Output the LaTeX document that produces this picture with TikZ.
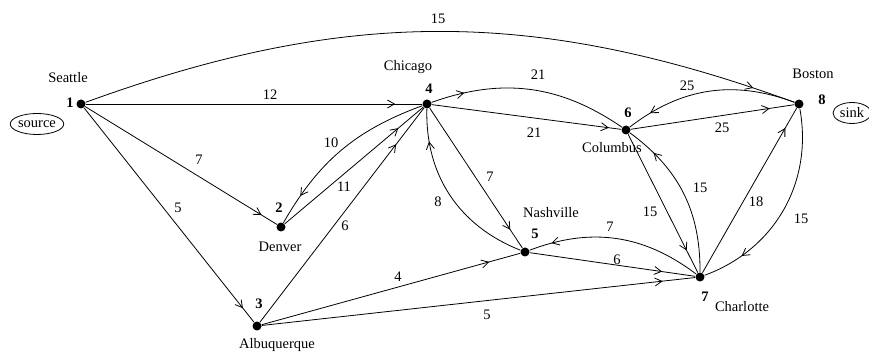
\documentclass[tikz,border=0pt]{standalone}
\usepackage{fontspec}
\setmainfont{Liberation Serif}
\usetikzlibrary{arrows.meta,decorations.markings,shapes.geometric}
\tikzset{city/.style={circle,fill,inner sep=0pt,minimum size=9pt},
  vtip/.style={postaction={decorate},decoration={markings,
    mark=at position #1 with {\arrow{Straight Barb[length=7pt,width=8pt]}}}},
  term/.style={draw,ellipse,inner sep=0pt,minimum width=#1,minimum height=21pt}}

\begin{document}
\begin{tikzpicture}[x=1pt,y=1pt,font=\fontsize{14.5}{16}\selectfont,line width=0.8pt]
\useasboundingbox (0,0) rectangle (869,-352);
% cities, numbers and names
\foreach \n/\x/\y in {1/81/104,2/281/227,3/257/326,4/427/104,5/525/252,6/626/130,7/700/277,8/799/104}
  {\node[city] (c\n) at (\x,-\y) {};}
\foreach \n/\x/\y in {1/70/103,2/279/208,3/259/304,4/429/89,5/535/234,6/628/113,7/705/297,8/822/100}
  {\node (n\n) at (\x,-\y) {\bfseries\n};}
\foreach \t/\x/\y in {Seattle/68/78,Denver/280/247,Albuquerque/277/345,Chicago/408/67,Nashville/551/213,Columbus/612/148,Charlotte/742/307,Boston/813/74}
  {\node (l\t) at (\x,-\y) {\t};}
\node[term=53pt] (src) at (37,-124) {source};
\node[term=38pt] (snk) at (852,-113) {sink};
% straight arcs with capacities
\foreach \a/\b/\p/\w/\x/\y in {1/4/0.92/12/270/95,1/2/0.92/7/199/160,1/3/0.935/5/178/208,2/4/0.82/11/344/187,
  3/4/0.83/6/345/226,4/5/0.87/7/490/177,4/6/0.935/21/534/133,3/5/0.88/4/398/277,3/7/0.925/5/487/315,
  5/7/0.8/6/617/260,6/7/0.84/15/650/212,7/8/0.88/18/756/202,6/8/0.85/25/722/128}
  {\draw[vtip=\p] (c\a) -- (c\b); \node (w\a\b) at (\x,-\y) {\w};}
% curved arcs
\draw[vtip=0.94] (c1) to[bend left=20] (c8); \node (v18) at (438,-19) {15};
\draw[vtip=0.17] (c4) to[bend left=27] (c6); \node (v46) at (538,-75) {21};
\draw[vtip=0.83] (c4) to[bend right=20] (c2); \node (v42) at (331,-143) {10};
\draw[vtip=0.82] (c5) to[bend left=35] (c4); \node (v54) at (438,-202) {8};
\draw[vtip=0.87] (c7) to[bend right=29] (c5); \node (v75) at (610,-227) {7};
\draw[vtip=0.81] (c7) to[bend right=27] (c6); \node (v76) at (700,-188) {15};
\draw[vtip=0.8] (c8) to[bend left=40] (c7); \node (v87) at (801,-219) {15};
\draw[vtip=0.86] (c8) to[bend right=29] (c6); \node (v86) at (687,-86) {25};
\end{tikzpicture}
\end{document}
